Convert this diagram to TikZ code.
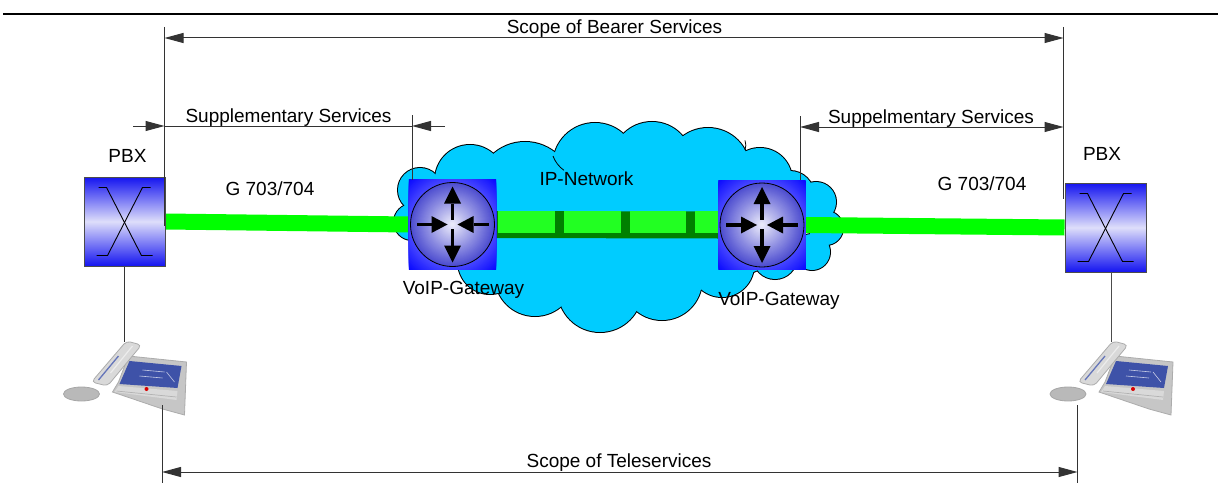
\documentclass[tikz,border=0pt]{standalone}
\usepackage{fontspec}
\setmainfont{Liberation Sans}
\usetikzlibrary{arrows.meta}

\definecolor{cloudblue}{RGB}{0,204,255}
\definecolor{linkgreen}{RGB}{0,255,0}
\definecolor{trunkdark}{RGB}{0,128,0}
\definecolor{trunklight}{RGB}{34,255,34}
\definecolor{pbxblue}{RGB}{20,20,240}
\definecolor{pbxlight}{RGB}{222,222,250}
\definecolor{gwblue}{RGB}{8,8,255}
\definecolor{gwring}{RGB}{70,70,255}
\definecolor{gwcenter}{RGB}{232,232,250}
\definecolor{gwedge}{RGB}{76,76,208}
\definecolor{keypad}{RGB}{62,82,168}

\pgfdeclarelayer{bg}
\pgfsetlayers{bg,main}

\tikzset{
  lbl/.style={font=\fontsize{19}{22}\selectfont, inner sep=0pt, anchor=base},
  dim/.style={draw=black!80, line width=1pt},
  tipend/.style={-{Triangle[length=19pt,width=10pt]}},
  tipboth/.style={{Triangle[length=19pt,width=10pt]}-{Triangle[length=19pt,width=10pt]}},
  pbxbox/.style={draw=black!70, line width=1pt, minimum width=81pt, minimum height=89pt,
    inner sep=0pt, top color=pbxblue, bottom color=pbxblue, middle color=pbxlight},
  gwbox/.style={fill=gwblue, minimum width=87pt, minimum height=89pt, inner sep=0pt},
  gwarrow/.style={fill=black},
}

\begin{document}
\begin{tikzpicture}[x=1pt,y=-1pt]
\useasboundingbox (0,0) rectangle (1220,487);

% header rule
\draw[line width=2.5pt] (3,14) -- (1218,14);

% equipment
\node[pbxbox] (pbxL) at (124.5,221.5) {};
\node[pbxbox] (pbxR) at (1105.5,227.5) {};
\node[gwbox] (gwL) at (452.5,224.5) {};
\node[gwbox] (gwR) at (762,225) {};
\coordinate (phL) at (124.5,342);
\coordinate (phR) at (1111,342);

\begin{pgfonlayer}{bg}
  % IP network cloud: outline pass, then fill pass
  \foreach \cx/\cy/\r in {420/190/22, 412/222/18, 470/180/35, 525/190/48, 595/165/42,
      652/162/40, 708/170/42, 760/180/32, 790/195/24, 816/202/20, 826/228/17,
      812/252/18, 775/257/22, 722/265/32, 662/280/40, 600/290/42, 535/276/40, 490/262/32}
    \draw[line width=2pt] (\cx,\cy) circle (\r pt);
  \draw[line width=2pt] (620,225) ellipse (180pt and 70pt);
  \foreach \cx/\cy/\r in {420/190/22, 412/222/18, 470/180/35, 525/190/48, 595/165/42,
      652/162/40, 708/170/42, 760/180/32, 790/195/24, 816/202/20, 826/228/17,
      812/252/18, 775/257/22, 722/265/32, 662/280/40, 600/290/42, 535/276/40, 490/262/32}
    \fill[cloudblue] (\cx,\cy) circle (\r pt);
  \fill[cloudblue] (620,225) ellipse (180pt and 70pt);
  % a few inner lobe lines
  \draw[line width=0.8pt] (553,156) arc[start angle=200, end angle=235, radius=30pt];
  \draw[line width=0.8pt] (745,150) arc[start angle=-20, end angle=20, radius=14pt];

  % G 703/704 links
  \draw[linkgreen, line width=16pt] (pbxL.east) -- (gwL.west);
  \draw[linkgreen, line width=16pt] (gwR.east) -- (pbxR.west);

  % IP trunk between the gateways
  \draw[trunkdark, line width=27pt] (gwL.east) -- (gwR.west);
  \foreach \a/\b in {498/555, 564/621, 630/686, 695/719}
    \fill[trunklight] (\a,211) rectangle (\b,233);
\end{pgfonlayer}

% switching symbol inside each PBX
\foreach \p in {pbxL,pbxR}{
  \begin{scope}[shift={(\p.center)}]
    \draw[line width=0.9pt] (-26,-34) -- (-18,-34) -- (17,34) -- (28,34);
    \draw[line width=0.9pt] (26,-34) -- (18,-34) -- (-17,34) -- (-28,34);
  \end{scope}
}

% router disc and arrows of each gateway
\foreach \g in {gwL,gwR}{
  \begin{scope}
    \clip (\g.south west) rectangle (\g.north east);
    \foreach \i [evaluate=\i as \pc using {100-5*\i}, evaluate=\i as \rr using {63-\i}] in {0,...,20}
      \fill[gwblue!\pc!gwring] (\g.center) circle (\rr pt);
  \end{scope}
  \begin{scope}[shift={(\g.center)}]
    \foreach \i [evaluate=\i as \pc using {100-2.5*\i}, evaluate=\i as \rr using {42-\i}] in {0,...,40}
      \fill[gwedge!\pc!gwcenter] (0,0) circle (\rr pt);
    \draw[line width=0.8pt] (0,0) circle (42pt);
    \fill[gwarrow] (-1.6,-5) rectangle (1.6,-21);
    \fill[gwarrow] (-8.5,-21) -- (8.5,-21) -- (0,-38) -- cycle;
    \fill[gwarrow] (-1.6,4) rectangle (1.6,21);
    \fill[gwarrow] (-8.5,21) -- (8.5,21) -- (0,38) -- cycle;
    \fill[gwarrow] (-36,-1.6) rectangle (-21,1.6);
    \fill[gwarrow] (-21,-8.5) -- (-21,8.5) -- (-5,0) -- cycle;
    \fill[gwarrow] (36,-1.6) rectangle (21,1.6);
    \fill[gwarrow] (21,-8.5) -- (21,8.5) -- (5,0) -- cycle;
  \end{scope}
}

% desk telephones
\foreach \t in {phL,phR}{
  \begin{scope}[shift={(\t)}]
    % coiled cord
    \fill[gray!55, draw=gray!70, line width=0.8pt] (-43,52) ellipse (18pt and 7pt);
    % base
    \fill[gray!45, draw=gray!65, line width=0.8pt] (4,14) -- (62,20) -- (60,73) -- (38,67) -- (-12,50) -- (-6,40) -- cycle;
    % keypad panel
    \fill[keypad] (5,19) -- (57,24) -- (53,46) -- (-5,42) -- cycle;
    \draw[white!70!keypad, line width=0.6pt] (18,28) -- (40,30) (15,34) -- (38,36) (42,30) -- (50,40);
    % front strip with the red key
    \fill[gray!30] (-6,44) -- (53,49) -- (52,58) -- (-10,50) -- cycle;
    \draw[gray!60, line width=0.7pt] (-8,49) -- (52,55);
    \fill[red!85!black] (22,47) circle (2pt);
    % handset
    \fill[gray!30, draw=gray!65, line width=0.8pt, rounded corners=4pt]
      (2,-1) -- (17,3) -- (-17,44) -- (-33,40) -- cycle;
    \draw[keypad!80, line width=1.3pt] (-6,14) -- (-26,38);
    \draw[gray!15, line width=1.2pt] (8,4) -- (-14,31);
  \end{scope}
}

% PBX to telephone lines
\draw[black!80, line width=1pt] (pbxL.south) -- (phL);
\draw[black!70, line width=1pt] (phR |- pbxR.south) -- (phR);

% scope of bearer services
\coordinate (bearL) at (164.5,38);
\coordinate (bearR) at (1063.5,38);
\draw[dim] (164.5,27) -- (164.5,226);
\draw[dim] (1063.5,27) -- (1063.5,199);
\draw[dim, tipboth] (bearL) -- (bearR);
\node[lbl] (bearerlbl) at (614.5,34) {Scope of Bearer Services};

% supplementary services, left side
\coordinate (supLa) at (133,126);
\coordinate (supLb) at (164.5,126);
\coordinate (supLc) at (412,126);
\coordinate (supLd) at (445,126);
\draw[dim] (412,115) -- (412,0 |- gwL.north);
\draw[dim, tipend] (supLa) -- (supLb);
\draw[dim] (supLb) -- (supLc);
\draw[dim, tipend] (supLd) -- (supLc);
\node[lbl] (suplblL) at (288.5,122) {Supplementary Services};

% supplementary services, right side
\coordinate (supRa) at (800,127);
\coordinate (supRb) at (1063.5,127);
\draw[dim] (800,116) -- (800,0 |- gwR.north);
\draw[dim, tipboth] (supRa) -- (supRb);
\node[lbl] (suplblR) at (931,123) {Suppelmentary Services};

% scope of teleservices
\coordinate (teleL) at (162,472);
\coordinate (teleR) at (1077.5,472);
\draw[dim] (162,405) -- (162,483);
\draw[dim] (1077.5,405) -- (1077.5,483);
\draw[dim, tipboth] (teleL) -- (teleR);
\node[lbl] (telelbl) at (619,467) {Scope of Teleservices};

% labels
\node[lbl] (pbxlblL) at (127.5,162) {PBX};
\node[lbl] (pbxlblR) at (1102,160) {PBX};
\node[lbl] (glblL) at (270,195) {G 703/704};
\node[lbl] (glblR) at (982,190) {G 703/704};
\node[lbl] (iplbl) at (586.5,185) {IP-Network};
\node[lbl] (gwlblL) at (463.5,294) {VoIP-Gateway};
\node[lbl] (gwlblR) at (779,305) {VoIP-Gateway};
\end{tikzpicture}
\end{document}
